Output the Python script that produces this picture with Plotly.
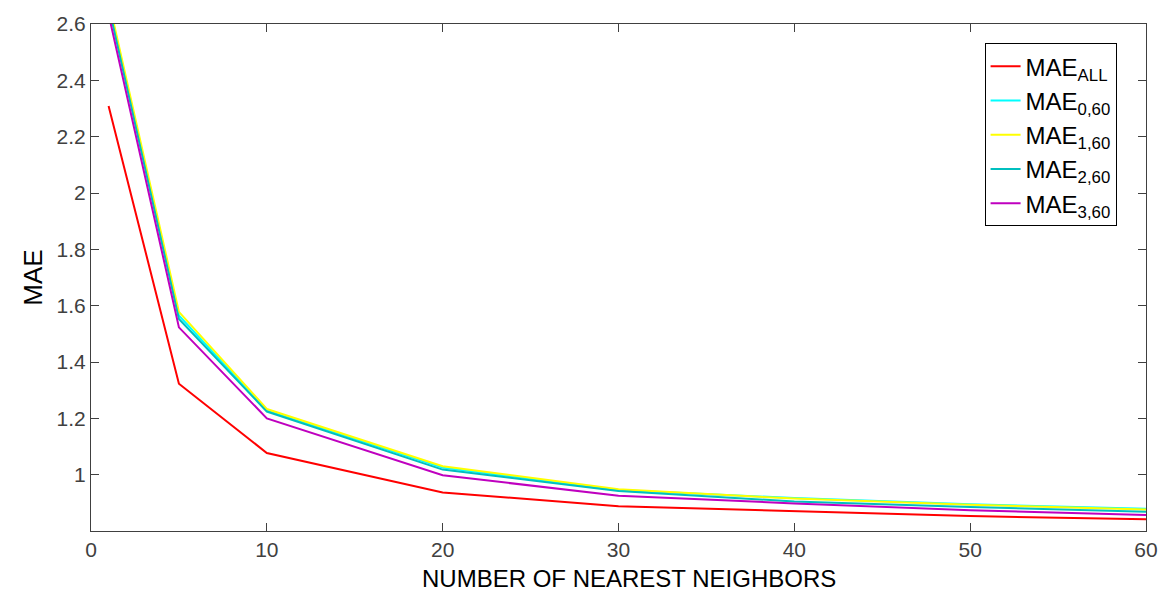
import plotly.graph_objects as go

k = [1, 5, 10, 20, 30, 40, 50, 60]
mae_all = [2.309, 1.323, 1.077, 0.937, 0.888, 0.870, 0.853, 0.842]
mae_0_60 = [2.675, 1.565, 1.228, 1.025, 0.946, 0.917, 0.895, 0.879]
mae_1_60 = [2.685, 1.578, 1.233, 1.030, 0.948, 0.915, 0.893, 0.876]
mae_2_60 = [2.665, 1.553, 1.224, 1.018, 0.942, 0.905, 0.885, 0.868]
mae_3_60 = [2.635, 1.523, 1.200, 0.998, 0.925, 0.898, 0.874, 0.857]

names = ["MAE<sub>ALL</sub>", "MAE<sub>0,60</sub>", "MAE<sub>1,60</sub>",
         "MAE<sub>2,60</sub>", "MAE<sub>3,60</sub>"]
colors = ["#ff0000", "#00ffff", "#ffff00", "#00bfbf", "#bf00bf"]
series = [mae_all, mae_0_60, mae_1_60, mae_2_60, mae_3_60]
x_title = "NUMBER OF NEAREST NEIGHBORS"

fig = go.Figure()
for nm, c, s in zip(names, colors, series):
    fig.add_trace(go.Scatter(x=k, y=s, mode="lines", name=nm,
                             line=dict(color=c, width=2)))

axis_common = dict(showgrid=False, zeroline=False, showline=True, mirror="ticks",
                   linecolor="#404040", linewidth=1.2, ticks="inside", ticklen=8,
                   tickcolor="#404040",
                   tickfont=dict(family="Liberation Sans, Arial", size=21, color="#404040"))

fig.update_layout(
    width=1170, height=600,
    margin=dict(l=91, r=20, t=18, b=69),
    paper_bgcolor="white", plot_bgcolor="white",
    font=dict(family="Liberation Sans, Arial", color="#000000"),
    xaxis=dict(range=[0, 60], tickvals=[0, 10, 20, 30, 40, 50, 60], **axis_common),
    yaxis=dict(range=[0.8, 2.6], tickvals=[1, 1.2, 1.4, 1.6, 1.8, 2, 2.2, 2.4, 2.6],
               ticktext=["1", "1.2", "1.4", "1.6", "1.8", "2", "2.2", "2.4", "2.6"],
               title=dict(text="MAE", font=dict(size=26, color="#000000"), standoff=6),
               **axis_common),
    legend=dict(x=0.847, y=0.962, xanchor="left", yanchor="top",
                bgcolor="white", bordercolor="#000000", borderwidth=1,
                font=dict(family="Liberation Sans, Arial", size=24, color="#000000"),
                tracegroupgap=0, itemwidth=30),
    showlegend=True,
)
fig.add_annotation(text=x_title, xref="paper", yref="paper", x=0.5, y=0,
                   xshift=10, yshift=-47, yanchor="middle", showarrow=False,
                   font=dict(family="Liberation Sans, Arial", size=24, color="#000000"))

fig.write_html("out.html", config={"displayModeBar": False},
               post_script="document.body.style.margin='0';document.body.style.overflow='hidden';")
